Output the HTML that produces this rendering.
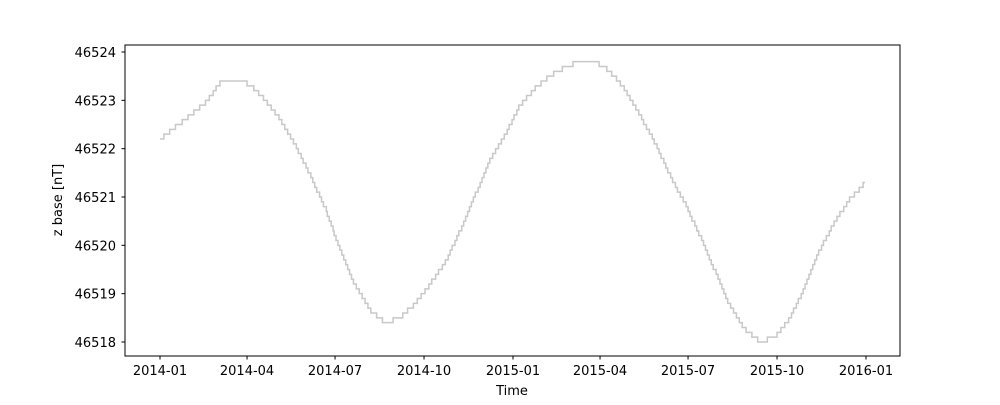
<!DOCTYPE html>
<html><head><meta charset="utf-8"><style>
body{margin:0;background:#fff}
svg text{font-family:"DejaVu Sans","Liberation Sans",sans-serif;font-size:13px;fill:#000}
</style></head><body>
<svg id="chart" width="1000" height="400">
<rect x="125" y="45" width="775" height="311" fill="none" stroke="#000" stroke-width="1"/>
<g id="xt"></g>
<g id="yt"></g>
<path id="ln" fill="none" stroke="#c8c8c8" stroke-width="1.5"/>
<text x="512" y="395" text-anchor="middle">Time</text>
<text transform="translate(62,200) rotate(-90)" text-anchor="middle">z base [nT]</text>
</svg>
<script>
const days=[0,16,31,47,62,78,93,109,124,140,155,171,186,202,217,233,248,264,279,295,310,326,341,357,372,388,403,419,434,450,465,481,496,512,527,543,558,574,589,605,620,636,651,667,682,698,713,729];
const values=[46522.2,46522.45,46522.7,46522.95,46523.37,46523.42,46523.33,46523.0,46522.6,46522.05,46521.45,46520.75,46519.9,46519.15,46518.65,46518.4,46518.5,46518.8,46519.2,46519.65,46520.3,46521.05,46521.75,46522.3,46522.9,46523.25,46523.5,46523.7,46523.8,46523.8,46523.6,46523.2,46522.7,46522.1,46521.45,46520.85,46520.2,46519.45,46518.75,46518.25,46518.0,46518.1,46518.5,46519.15,46519.9,46520.5,46520.95,46521.3];
const xTickLabels=["2014-01","2014-04","2014-07","2014-10","2015-01","2015-04","2015-07","2015-10","2016-01"];
const xTickDays=[0,90,181,273,365,455,546,638,730];
const yTicks=[46518,46519,46520,46521,46522,46523,46524];
const X=d=>160+d*(706/730);
const Y=v=>342-(v-46518)*(290/6);
const NS="http://www.w3.org/2000/svg";
const xt=document.getElementById('xt'),yt=document.getElementById('yt');
xTickDays.forEach((d,i)=>{
 const l=document.createElementNS(NS,'line');
 l.setAttribute('x1',X(d));l.setAttribute('x2',X(d));l.setAttribute('y1',356);l.setAttribute('y2',359.5);l.setAttribute('stroke','#000');
 
 
 xt.appendChild(l);
 const t=document.createElementNS(NS,'text');
 t.setAttribute('x',X(d));t.setAttribute('y',375);t.setAttribute('text-anchor','middle');t.textContent=xTickLabels[i];
 
 
 xt.appendChild(t);
});
yTicks.forEach(v=>{
 const l=document.createElementNS(NS,'line');
 l.setAttribute('x1',121.5);l.setAttribute('x2',125);l.setAttribute('y1',Y(v));l.setAttribute('y2',Y(v));l.setAttribute('stroke','#000');
 
 
 yt.appendChild(l);
 const t=document.createElementNS(NS,'text');
 t.setAttribute('x',116);t.setAttribute('y',Y(v)+5);t.setAttribute('text-anchor','end');t.textContent=v;
 
 
 yt.appendChild(t);
});
let d="";let j=0;
for(let day=0;day<=days[days.length-1];day++){
 while(j<days.length-2&&day>days[j+1])j++;
 const f=(day-days[j])/(days[j+1]-days[j]);
 const v=Math.round((values[j]+(values[j+1]-values[j])*f)*10)/10;
 const x=X(day),y=Y(v);
 if(day===0)d+=`M${x},${y}`;else d+=`H${x}V${y}`;
}
document.getElementById('ln').setAttribute('d',d);
</script>
</body></html>
